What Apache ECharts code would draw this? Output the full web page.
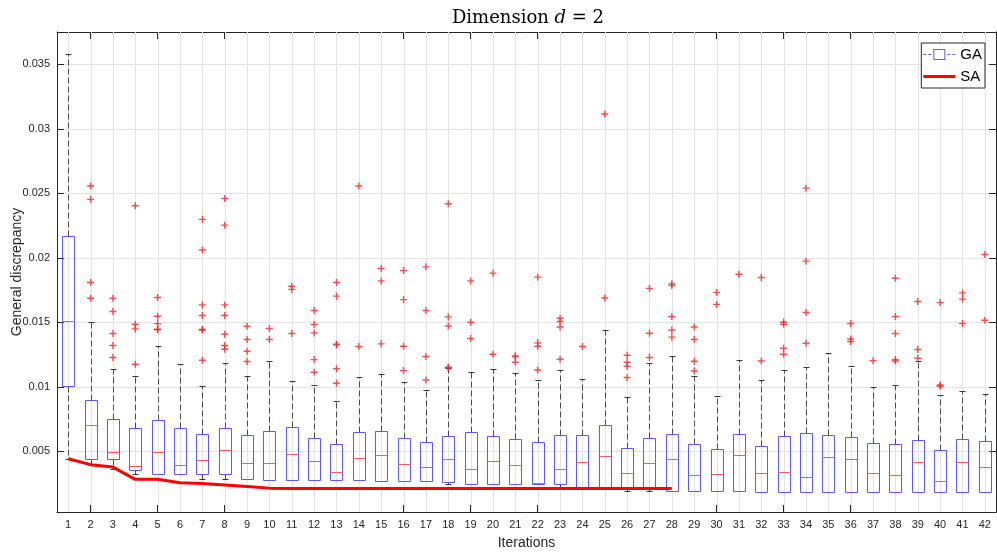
<!DOCTYPE html>
<html>
<head>
<meta charset="utf-8">
<title>Dimension d = 2</title>
<script src="https://cdn.jsdelivr.net/npm/echarts@6/dist/echarts.min.js"></script>
<style>
  html, body { margin: 0; padding: 0; background: #fff; }
  #chart { width: 997px; height: 557px; }
</style>
</head>
<body>
<div id="chart"></div>
<script>
const categories = ['1', '2', '3', '4', '5', '6', '7', '8', '9', '10', '11', '12', '13', '14',
  '15', '16', '17', '18', '19', '20', '21', '22', '23', '24', '25', '26', '27', '28',
  '29', '30', '31', '32', '33', '34', '35', '36', '37', '38', '39', '40', '41', '42']

const whiskerLow = [0.00443, 0.00391, 0.0036, 0.00322, 0.00322, 0.00322, 0.00283, 0.00283, 0.00283, 0.00275,
  0.00275, 0.00275, 0.00275, 0.00275, 0.0027, 0.00267, 0.00267, 0.0025, 0.0025, 0.0025,
  0.0025, 0.0025, 0.00213, 0.00213, 0.00213, 0.00192, 0.00192, 0.00192, 0.00192, 0.00192,
  0.00192, 0.00187, 0.00187, 0.00184, 0.00184, 0.00184, 0.00184, 0.00184, 0.00184, 0.00184,
  0.00184, 0.00184]
const q1 = [0.01007, 0.00443, 0.00443, 0.00358, 0.00322, 0.00322, 0.00322, 0.00322, 0.00283, 0.00275,
  0.00275, 0.00275, 0.00275, 0.00275, 0.0027, 0.00267, 0.00267, 0.00262, 0.0025, 0.0025,
  0.0025, 0.0025, 0.0025, 0.00213, 0.00213, 0.00213, 0.00213, 0.00192, 0.00192, 0.00192,
  0.00192, 0.00187, 0.00187, 0.00184, 0.00184, 0.00184, 0.00184, 0.00184, 0.00184, 0.00184,
  0.00184, 0.00184]
const median = [0.01514, 0.00702, 0.00495, 0.00386, 0.00495, 0.00397, 0.00436, 0.0051, 0.00409, 0.00409,
  0.00482, 0.00428, 0.00337, 0.00451, 0.00469, 0.00404, 0.00378, 0.00443, 0.0036, 0.00422,
  0.00391, 0.00254, 0.0036, 0.00415, 0.00466, 0.00329, 0.00412, 0.00438, 0.00319, 0.00327,
  0.00474, 0.00332, 0.00342, 0.00298, 0.00453, 0.00443, 0.00332, 0.00314, 0.00417, 0.00267,
  0.0042, 0.00378]
const q3 = [0.02168, 0.00896, 0.00748, 0.00681, 0.0074, 0.00681, 0.00634, 0.00681, 0.00624, 0.0066,
  0.00692, 0.00601, 0.00559, 0.00652, 0.00657, 0.00606, 0.00572, 0.00616, 0.0065, 0.00622,
  0.00593, 0.00575, 0.00627, 0.0063, 0.00704, 0.00525, 0.00606, 0.00632, 0.00554, 0.00518,
  0.00634, 0.00544, 0.00616, 0.00642, 0.0063, 0.00614, 0.00567, 0.00554, 0.00591, 0.00508,
  0.00595, 0.00578]
const whiskerHigh = [0.0358, 0.015, 0.01136, 0.01082, 0.0132, 0.01175, 0.01007, 0.01185, 0.01082, 0.012,
  0.01045, 0.01012, 0.00888, 0.01074, 0.011, 0.0104, 0.00979, 0.01149, 0.01115, 0.01136,
  0.0111, 0.01053, 0.01128, 0.01059, 0.01437, 0.00921, 0.01188, 0.01237, 0.01084, 0.00932,
  0.01206, 0.01056, 0.01131, 0.01157, 0.01266, 0.0116, 0.00997, 0.01017, 0.01198, 0.0094,
  0.00966, 0.00945]
const outliers = [
  [],
  [0.02556, 0.02453, 0.01809, 0.01687],
  [0.01687, 0.01584, 0.01413, 0.0132, 0.01227],
  [0.02403, 0.01485, 0.01449, 0.01175],
  [0.01692, 0.01547, 0.0149, 0.01444, 0.01444],
  [],
  [0.02298, 0.0206, 0.01635, 0.01553, 0.01444, 0.0144, 0.01206],
  [0.0246, 0.02253, 0.01635, 0.01553, 0.01408, 0.0132, 0.01291],
  [0.0147, 0.01367, 0.01276, 0.01196],
  [0.01452, 0.01367],
  [0.0178, 0.01755, 0.01413],
  [0.01592, 0.01483, 0.01418, 0.01211, 0.01113],
  [0.01809, 0.01703, 0.01331, 0.01325, 0.01141, 0.01028],
  [0.02556, 0.01313],
  [0.01917, 0.01821, 0.01333],
  [0.01901, 0.01676, 0.01315, 0.01126],
  [0.0193, 0.01592, 0.01235, 0.01053],
  [0.02419, 0.01542, 0.01472, 0.01152, 0.01146],
  [0.01821, 0.015, 0.01374],
  [0.01881, 0.01253],
  [0.0124, 0.01232, 0.01191],
  [0.0185, 0.01341, 0.01315, 0.01131],
  [0.01532, 0.01506, 0.01464, 0.01214],
  [0.01313],
  [0.03115, 0.01689],
  [0.01245, 0.01191, 0.0116, 0.01072],
  [0.01763, 0.01415, 0.01227],
  [0.01798, 0.01786, 0.01545, 0.0144, 0.01385],
  [0.01464, 0.01367, 0.01198, 0.01123],
  [0.01732, 0.01638],
  [0.01873],
  [0.01847, 0.012],
  [0.01503, 0.01485, 0.01299, 0.01253],
  [0.0254, 0.01974, 0.01576, 0.01338],
  [],
  [0.01491, 0.01371, 0.01351],
  [0.01203],
  [0.01842, 0.01545, 0.01413, 0.01211, 0.012],
  [0.01661, 0.01289, 0.01222],
  [0.01653, 0.01014, 0.01004],
  [0.01728, 0.0168, 0.01491],
  [0.02026, 0.01516],
]
const saValues = [0.00443, 0.00397, 0.00378, 0.00283, 0.00283, 0.00257, 0.0025, 0.00239, 0.00228, 0.00215,
  0.00213, 0.00213, 0.00213, 0.00213, 0.00213, 0.00213, 0.00213, 0.00213, 0.00213, 0.00213,
  0.00213, 0.00213, 0.00213, 0.00213, 0.00213, 0.00213, 0.00213, 0.00213, null, null,
  null, null, null, null, null, null, null, null, null, null,
  null, null]

const FONT = '"Liberation Sans", Arial, Helvetica, sans-serif'
const SERIF = '"DejaVu Serif", "Liberation Serif", serif'
const AXIS_COLOR = '#262626'
const GRID_COLOR = '#e3e3e3'

const boxData = categories.map((c, i) => [i, whiskerLow[i], q1[i], median[i], q3[i], whiskerHigh[i]])
const gridLineData = categories.map((c, i) => [i, 0])
const outlierData = []
outliers.forEach((list, i) => list.forEach(v => outlierData.push([i, v])))

const px = v => Math.round(v) + 0.5

function renderBox(params, api) {
  const i = api.value(0)
  const band = api.size([1, 0])[0]
  const cx = px(api.coord([i, 0])[0])
  const y = k => px(api.coord([i, api.value(k)])[1])
  const lo = y(1), b1 = y(2), md = y(3), b3 = y(4), hi = y(5)
  const half = Math.round(band * 0.26)
  const cap = Math.round(band * 0.13)
  const dash = { stroke: '#4a4a4a', lineWidth: 1, lineDash: [6, 3] }
  const solid = { stroke: '#3a3a3a', lineWidth: 1 }
  return {
    type: 'group',
    children: [
      { type: 'line', shape: { x1: cx, y1: b3, x2: cx, y2: hi }, style: dash },
      { type: 'line', shape: { x1: cx, y1: b1, x2: cx, y2: lo }, style: dash },
      { type: 'line', shape: { x1: cx - cap, y1: hi, x2: cx + cap, y2: hi }, style: solid },
      { type: 'line', shape: { x1: cx - cap, y1: lo, x2: cx + cap, y2: lo }, style: solid },
      {
        type: 'rect',
        shape: { x: cx - half, y: b3, width: half * 2, height: b1 - b3 },
        style: { fill: 'none', stroke: '#5a5aff', lineWidth: 1 },
      },
      { type: 'line', shape: { x1: cx - half, y1: md, x2: cx + half, y2: md }, style: { stroke: '#ff5a5a', lineWidth: 1 } },
    ],
  }
}

function renderGridLine(params, api) {
  const x = px(api.coord([api.value(0), 0])[0])
  const cs = params.coordSys
  return {
    type: 'line',
    silent: true,
    shape: { x1: x, y1: cs.y, x2: x, y2: cs.y + cs.height },
    style: { stroke: GRID_COLOR, lineWidth: 1 },
  }
}

const tickFormat = v => String(Number(v.toFixed(4)))

const yBase = {
  type: 'value',
  min: 0.0003,
  max: 0.0375,
  splitNumber: 7,
  axisLine: { show: true, lineStyle: { color: AXIS_COLOR } },
  axisTick: { show: true, inside: true, length: 7, lineStyle: { color: AXIS_COLOR } },
}

const option = {
  animation: false,
  backgroundColor: '#fff',
  title: {
    text: 'Dimension {i|d} = 2',
    left: 523,
    top: 4,
    textAlign: 'center',
    textStyle: {
      fontFamily: SERIF,
      fontSize: 18,
      fontWeight: 'normal',
      color: '#000',
      rich: {
        i: { fontFamily: SERIF, fontSize: 18, fontStyle: 'italic', color: '#000' },
      },
    },
  },
  legend: {
    orient: 'vertical',
    right: 12,
    top: 43,
    selectedMode: false,
    itemWidth: 32,
    itemHeight: 12,
    itemGap: 7,
    padding: [4, 3, 4, 2],
    backgroundColor: '#fff',
    borderColor: AXIS_COLOR,
    borderWidth: 1,
    textStyle: { fontFamily: FONT, fontSize: 15, color: '#000' },
    data: [
      {
        name: 'GA',
        icon: 'path://M0,5.5h3v1h-3zM5,5.5h3v1h-3zM10,0.5h12v1h-12zM10,10.5h12v1h-12zM10,0.5h1v11h-1zM21,0.5h1v11h-1zM24,5.5h3v1h-3zM29,5.5h3v1h-3z',
      },
      { name: 'SA', icon: 'path://M0,0h32v3h-32z' },
    ],
  },
  grid: { left: 57, right: 1, top: 32, bottom: 45, outerBoundsMode: 'none', containLabel: false },
  xAxis: [
    {
      type: 'category',
      data: categories,
      boundaryGap: true,
      name: 'Iterations',
      nameLocation: 'middle',
      nameGap: 24,
      nameTextStyle: { fontFamily: FONT, fontSize: 14, color: AXIS_COLOR },
      axisLine: { show: true, lineStyle: { color: AXIS_COLOR } },
      axisTick: { show: true, inside: true, alignWithLabel: true, length: 7, lineStyle: { color: AXIS_COLOR } },
      axisLabel: { interval: 0, margin: 7, fontFamily: FONT, fontSize: 11, color: AXIS_COLOR },
      splitLine: { show: false },
    },
    {
      type: 'category',
      data: categories,
      position: 'top',
      boundaryGap: true,
      axisLine: { show: true, lineStyle: { color: AXIS_COLOR } },
      axisTick: { show: true, inside: true, alignWithLabel: true, interval: 0, length: 7, lineStyle: { color: AXIS_COLOR } },
      axisLabel: { show: false },
      splitLine: { show: false },
    },
  ],
  yAxis: [
    {
      ...yBase,
      name: 'General discrepancy',
      nameLocation: 'middle',
      nameGap: 33,
      nameMoveOverlap: false,
      nameTextStyle: { fontFamily: FONT, fontSize: 14, color: AXIS_COLOR },
      axisLabel: {
        showMinLabel: false,
        showMaxLabel: false,
        margin: 7,
        fontFamily: FONT,
        fontSize: 11,
        color: AXIS_COLOR,
        formatter: tickFormat,
      },
      splitLine: { show: true, lineStyle: { color: GRID_COLOR } },
    },
    {
      ...yBase,
      position: 'right',
      axisLabel: { show: false },
      splitLine: { show: false },
    },
  ],
  series: [
    {
      name: 'vgrid',
      type: 'custom',
      silent: true,
      z: 1,
      renderItem: renderGridLine,
      encode: { x: 0, y: 1 },
      data: gridLineData,
    },
    {
      name: 'GA',
      type: 'custom',
      z: 3,
      itemStyle: { color: '#5a5aff' },
      renderItem: renderBox,
      encode: { x: 0, y: [1, 2, 3, 4, 5] },
      data: boxData,
    },
    {
      name: 'outliers',
      type: 'scatter',
      z: 4,
      symbol: 'path://M4,0h2v10h-2zM0,4h10v2h-10z',
      symbolSize: 7,
      itemStyle: { color: '#ff2020' },
      data: outlierData,
    },
    {
      name: 'SA',
      type: 'line',
      z: 5,
      symbol: 'none',
      showSymbol: false,
      color: '#ff0000',
      lineStyle: { color: '#ff0000', width: 3 },
      connectNulls: false,
      data: saValues,
    },
  ],
}

const chart = echarts.init(document.getElementById('chart'))
chart.setOption(option)
</script>
</body>
</html>
